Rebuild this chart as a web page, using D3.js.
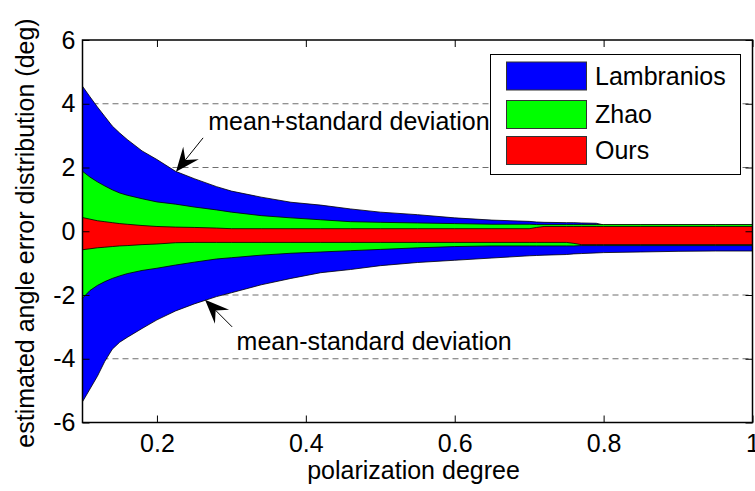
<!DOCTYPE html>
<html>
<head>
<meta charset="utf-8">
<script src="https://cdn.jsdelivr.net/npm/d3@7"></script>
<style>
  html, body { margin: 0; padding: 0; background: #fff; }
  svg { display: block; font-family: "Liberation Sans", Arial, Helvetica, sans-serif; }
</style>
</head>
<body>
<svg id="chart" width="755" height="491"></svg>
<script>
// ---------------- data ----------------
const xValues = [0.10,0.11,0.12,0.13,0.14,0.15,0.16,0.18,0.20,0.225,0.25,0.28,0.30,0.34,0.38,0.42,0.46,0.50,0.55,0.60,0.65,0.70,0.71,0.72,0.75,0.76,0.77,0.79,0.80,0.85,0.90,0.95,1.00];

const lambUpper = [4.55,4.22,3.90,3.60,3.30,3.08,2.88,2.52,2.25,1.88,1.65,1.40,1.26,1.07,0.91,0.82,0.70,0.60,0.52,0.42,0.35,0.31,0.29,0.28,0.27,0.27,0.26,0.25,0.20,0.20,0.20,0.20,0.20];
const lambLower = [-5.35,-4.95,-4.55,-4.08,-3.70,-3.48,-3.33,-3.05,-2.78,-2.50,-2.28,-2.05,-1.93,-1.68,-1.48,-1.30,-1.20,-1.08,-0.98,-0.91,-0.84,-0.77,-0.76,-0.75,-0.73,-0.71,-0.70,-0.68,-0.67,-0.65,-0.63,-0.62,-0.62];

const zhaoUpper = [1.88,1.70,1.55,1.42,1.30,1.20,1.13,1.02,0.92,0.85,0.76,0.67,0.60,0.49,0.42,0.36,0.30,0.28,0.26,0.24,0.22,0.22,0.21,0.21,0.21,0.21,0.21,0.21,0.21,0.21,0.21,0.21,0.21];
const zhaoLower = [-2.10,-1.86,-1.70,-1.58,-1.48,-1.40,-1.33,-1.23,-1.16,-1.06,-0.97,-0.87,-0.83,-0.75,-0.69,-0.65,-0.61,-0.57,-0.52,-0.48,-0.46,-0.46,-0.46,-0.46,-0.46,-0.46,-0.45,-0.45,-0.45,-0.45,-0.45,-0.45,-0.45];

const oursUpper = [0.43,0.38,0.33,0.30,0.27,0.24,0.22,0.18,0.15,0.13,0.12,0.10,0.08,0.08,0.08,0.08,0.08,0.08,0.08,0.08,0.08,0.08,0.12,0.15,0.15,0.15,0.15,0.15,0.15,0.15,0.15,0.15,0.15];
const oursLower = [-0.58,-0.55,-0.52,-0.50,-0.48,-0.46,-0.45,-0.42,-0.40,-0.36,-0.35,-0.35,-0.35,-0.35,-0.35,-0.35,-0.35,-0.35,-0.35,-0.35,-0.35,-0.35,-0.35,-0.35,-0.35,-0.38,-0.42,-0.42,-0.42,-0.42,-0.42,-0.42,-0.42];

const seriesNames = ["Lambranios", "Zhao", "Ours"];
const seriesColors = ["#0000ff", "#00ff00", "#ff0000"];

const xTicks = [0.2, 0.4, 0.6, 0.8, 1];
const xTickLabels = ["0.2", "0.4", "0.6", "0.8", "1"];
const yTicks = [-6, -4, -2, 0, 2, 4, 6];
const yTickLabels = ["-6", "-4", "-2", "0", "2", "4", "6"];
const gridValues = [-4, -2, 0, 2, 4];

const xLabel = "polarization degree";
const yLabel = "estimated angle error distribution (deg)";

// annotations (data coordinates)
const annoUpper = { text: "mean+standard deviation", x: 0.2688, y: 3.19, tail: [0.262, 2.93], tip: [0.2256, 1.87] };
const annoLower = { text: "mean-standard deviation", x: 0.307, y: -3.72, tail: [0.301, -3.0], tip: [0.2646, -2.15] };

// ---------------- drawing ----------------
const FS = 25;
const svg = d3.select("#chart");
const mLeft = 82.5, mRight = 752.5, mTop = 40, mBottom = 422.5;

const x = d3.scaleLinear().domain([0.1, 1]).range([mLeft, mRight]);
const y = d3.scaleLinear().domain([-6, 6]).range([mBottom, mTop]);

svg.append("rect").attr("x", 0).attr("y", 0).attr("width", 755).attr("height", 491).attr("fill", "#fff");

// grid (dashed, behind)
svg.append("g").selectAll("line").data(gridValues).join("line")
  .attr("x1", mLeft).attr("x2", mRight)
  .attr("y1", d => y(d)).attr("y2", d => y(d))
  .attr("stroke", "#6e6e6e").attr("stroke-width", 1)
  .attr("stroke-dasharray", "6,4");

// bands
const bands = [
  { up: lambUpper, lo: lambLower },
  { up: zhaoUpper, lo: zhaoLower },
  { up: oursUpper, lo: oursLower }
];
const area = d3.area()
  .x(d => x(d.x))
  .y0(d => y(d.lo))
  .y1(d => y(d.up));

bands.forEach((b, i) => {
  const pts = xValues.map((xv, j) => ({ x: xv, up: b.up[j], lo: b.lo[j] }));
  svg.append("path")
    .datum(pts)
    .attr("d", area)
    .attr("fill", seriesColors[i])
    .attr("stroke", "#000")
    .attr("stroke-width", 0.8)
    .attr("stroke-linejoin", "round");
});

// axes
const tickLen = 7;
const xAxisB = d3.axisBottom(x).tickValues(xTicks).tickFormat((d, i) => xTickLabels[i]).tickSizeInner(-tickLen).tickSizeOuter(0).tickPadding(12);
const xAxisT = d3.axisTop(x).tickValues(xTicks).tickFormat("").tickSizeInner(-tickLen).tickSizeOuter(0);
const yAxisL = d3.axisLeft(y).tickValues(yTicks).tickFormat((d, i) => yTickLabels[i]).tickSizeInner(-tickLen).tickSizeOuter(0).tickPadding(7);
const yAxisR = d3.axisRight(y).tickValues(yTicks).tickFormat("").tickSizeInner(-tickLen).tickSizeOuter(0);

function styleAxis(g) {
  g.select(".domain").remove();
  g.selectAll(".tick line").attr("stroke", "#000").attr("stroke-width", 1);
  g.selectAll(".tick text").attr("fill", "#000").attr("font-size", FS).attr("font-family", "Liberation Sans, Arial, sans-serif");
}
svg.append("g").attr("transform", `translate(0,${mBottom})`).call(xAxisB).call(styleAxis);
svg.append("g").attr("transform", `translate(0,${mTop})`).call(xAxisT).call(styleAxis);
svg.append("g").attr("transform", `translate(${mLeft},0)`).call(yAxisL).call(styleAxis);
svg.append("g").attr("transform", `translate(${mRight},0)`).call(yAxisR).call(styleAxis);

// frame
svg.append("rect")
  .attr("x", mLeft).attr("y", mTop).attr("width", mRight - mLeft).attr("height", mBottom - mTop)
  .attr("fill", "none").attr("stroke", "#000").attr("stroke-width", 1.5);

// axis labels
svg.append("text").attr("x", (mLeft + mRight) / 2 - 4).attr("y", 479)
  .attr("text-anchor", "middle").attr("font-size", FS).attr("fill", "#000").text(xLabel);
svg.append("text").attr("transform", "translate(34,233) rotate(-90)")
  .attr("text-anchor", "middle").attr("font-size", FS).attr("fill", "#000").text(yLabel);

// legend
const lg = svg.append("g");
lg.append("rect").attr("x", 490.5).attr("y", 54.5).attr("width", 250).attr("height", 120)
  .attr("fill", "#fff").attr("stroke", "#000").attr("stroke-width", 1);
const swY = [62, 100.5, 136.5];
seriesNames.forEach((name, i) => {
  lg.append("rect").attr("x", 506.5).attr("y", swY[i]).attr("width", 80).attr("height", 28)
    .attr("fill", seriesColors[i]).attr("stroke", "#333").attr("stroke-width", 1);
  lg.append("text").attr("x", 595).attr("y", swY[i] + 14).attr("dy", "0.35em")
    .attr("font-size", FS).attr("fill", "#000").text(name);
});

// annotations (drawn on top)
function drawArrow(a) {
  const tx = x(a.tip[0]), ty = y(a.tip[1]);
  const sx = x(a.tail[0]), sy = y(a.tail[1]);
  const dx = tx - sx, dy = ty - sy, len = Math.hypot(dx, dy);
  const ux = dx / len, uy = dy / len, nx = -uy, ny = ux;
  const L = 24, W = 10, N = 15;
  svg.append("line").attr("x1", sx).attr("y1", sy).attr("x2", tx - ux * N).attr("y2", ty - uy * N)
    .attr("stroke", "#000").attr("stroke-width", 1);
  const pts = [
    [tx, ty],
    [tx - ux * L + nx * W, ty - uy * L + ny * W],
    [tx - ux * N, ty - uy * N],
    [tx - ux * L - nx * W, ty - uy * L - ny * W]
  ];
  svg.append("path").attr("d", "M" + pts.map(p => p.join(",")).join("L") + "Z").attr("fill", "#000");
}
[annoUpper, annoLower].forEach(a => {
  svg.append("text").attr("x", x(a.x)).attr("y", y(a.y)).attr("font-size", FS).attr("fill", "#000").text(a.text);
  drawArrow(a);
});
</script>
</body>
</html>
